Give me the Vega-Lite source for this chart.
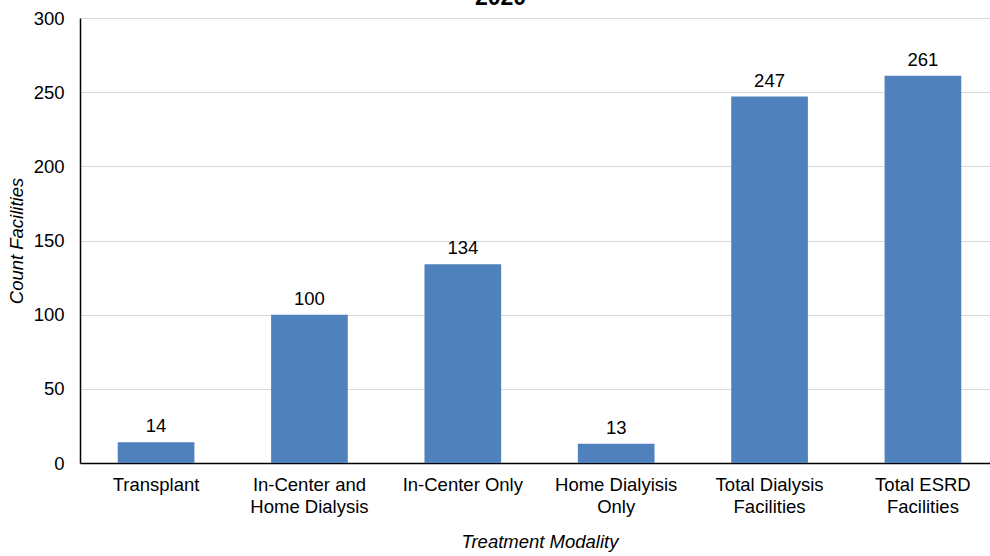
{
  "$schema": "https://vega.github.io/schema/vega-lite/v6.json",
  "autosize": {"type": "none"},
  "width": 919,
  "height": 445,
  "padding": {"left": 80, "top": 18, "right": 0, "bottom": 93},
  "background": "white",
  "title": {"text": "2020", "fontSize": 23, "fontWeight": "bold", "font": "Liberation Sans", "color": "black", "anchor": "middle", "frame": "group", "baseline": "alphabetic", "dx": -39, "dy": 25, "offset": 6},
  "config": {
    "font": "Liberation Sans",
    "view": {"stroke": null}
  },
  "data": {
    "values": [
      {"modality": "Transplant", "count": 14},
      {"modality": "In-Center and|Home Dialysis", "count": 100},
      {"modality": "In-Center Only", "count": 134},
      {"modality": "Home Dialyisis|Only", "count": 13},
      {"modality": "Total Dialysis|Facilities", "count": 247},
      {"modality": "Total ESRD|Facilities", "count": 261}
    ]
  },
  "encoding": {
    "x": {
      "field": "modality", "type": "nominal", "sort": null,
      "scale": {"paddingInner": 0.5, "paddingOuter": 0.246},
      "axis": {
        "title": "Treatment Modality", "titleFontStyle": "italic", "titleFontWeight": "normal", "titleFontSize": 18.5, "titleColor": "black", "titlePadding": 17,
        "labelAngle": 0, "labelFontSize": 18.5, "labelColor": "black", "labelLineHeight": 22, "labelPadding": 12,
        "labelExpr": "split(datum.label, '|')",
        "ticks": false, "domainColor": "black", "domainWidth": 1.5, "grid": false
      }
    },
    "y": {
      "field": "count", "type": "quantitative",
      "scale": {"domain": [0, 300]},
      "axis": {
        "title": "Count Facilities", "titleFontStyle": "italic", "titleFontWeight": "normal", "titleFontSize": 18.5, "titleColor": "black", "titlePadding": 7,
        "values": [0, 50, 100, 150, 200, 250, 300],
        "labelFontSize": 18.5, "labelColor": "black", "labelPadding": 16,
        "ticks": false, "domainColor": "black", "domainWidth": 1.5, "gridColor": "#d9d9d9", "gridWidth": 1
      }
    }
  },
  "layer": [
    {"mark": {"type": "bar", "color": "#4F81BD"}},
    {"mark": {"type": "text", "baseline": "alphabetic", "dy": -10, "fontSize": 18.5, "color": "black"}, "encoding": {"text": {"field": "count", "type": "quantitative"}}}
  ]
}
